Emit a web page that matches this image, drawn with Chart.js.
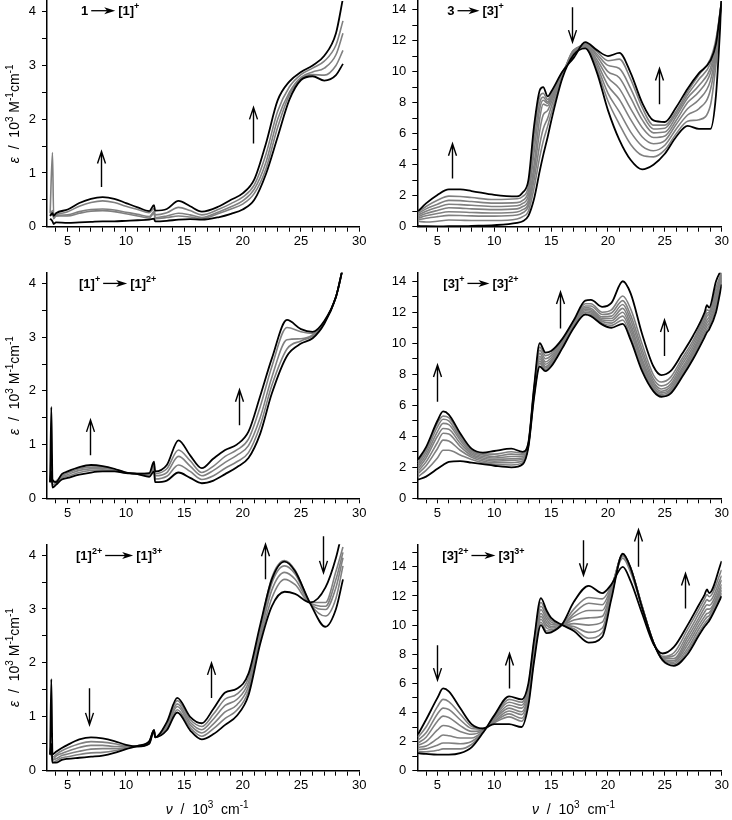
<!DOCTYPE html>
<html>
<head>
<meta charset="utf-8">
<script src="https://cdn.jsdelivr.net/npm/chart.js@4.4.0/dist/chart.umd.min.js"></script>
<style>
  body { margin: 0; background: #fff; }
  #wrap { position: relative; width: 732px; height: 820px; overflow: hidden; }
  canvas { position: absolute; }
</style>
</head>
<body>
<div id="wrap">
  <canvas id="c1" width="370" height="250" style="left:0;top:0"></canvas>
  <canvas id="c2" width="366" height="250" style="left:366px;top:0"></canvas>
  <canvas id="c3" width="370" height="270" style="left:0;top:250px"></canvas>
  <canvas id="c4" width="366" height="270" style="left:366px;top:250px"></canvas>
  <canvas id="c5" width="370" height="300" style="left:0;top:520px"></canvas>
  <canvas id="c6" width="366" height="300" style="left:366px;top:520px"></canvas>
</div>
<script>
// ---- tick values / labels ----
const xTickVals = [4, 5, 6, 7, 8, 9, 10, 11, 12, 13, 14, 15, 16, 17, 18, 19, 20, 21, 22, 23, 24, 25, 26, 27, 28, 29, 30];
const xLabelled = [5, 10, 15, 20, 25, 30];
const yTicksSmall = [0, 0.5, 1, 1.5, 2, 2.5, 3, 3.5, 4];
const yLabelledSmall = [0, 1, 2, 3, 4];
const yTicksBig = [0, 1, 2, 3, 4, 5, 6, 7, 8, 9, 10, 11, 12, 13, 14];
const yTicksBig15 = [0, 1, 2, 3, 4, 5, 6, 7, 8, 9, 10, 11, 12, 13, 14, 15];
const yLabelledBig = [0, 2, 4, 6, 8, 10, 12, 14];

// ---- panel 1 : 1 -> [1]+ ----
const p1_x  = [3.5, 3.7, 3.8, 4, 5, 6, 7, 8, 9, 10, 11, 12, 12.4, 12.5, 13.5, 14.5, 15.5, 16.5, 18, 19, 20, 21, 22, 23, 24, 25, 26, 27, 28, 28.6];
const p1_s0 = [0.15, 0.1, 0.05, 0.08, 0.07, 0.08, 0.09, 0.1, 0.1, 0.11, 0.12, 0.13, 0.15, 0.1, 0.11, 0.13, 0.14, 0.13, 0.18, 0.24, 0.32, 0.5, 0.98, 1.67, 2.36, 2.73, 2.8, 2.72, 2.82, 3.03];
const p1_s1 = [0.25, 1.38, 0.2, 0.2, 0.2, 0.25, 0.29, 0.3, 0.28, 0.24, 0.2, 0.16, 0.25, 0.15, 0.17, 0.2, 0.18, 0.15, 0.25, 0.33, 0.42, 0.62, 1.08, 1.85, 2.45, 2.75, 2.83, 2.82, 3.0, 3.28];
const p1_s2 = [0.2, 0.3, 0.15, 0.2, 0.22, 0.28, 0.32, 0.33, 0.31, 0.27, 0.23, 0.19, 0.28, 0.17, 0.2, 0.25, 0.22, 0.17, 0.28, 0.37, 0.48, 0.7, 1.2, 2.0, 2.5, 2.78, 2.88, 2.95, 3.2, 3.6];
const p1_s3 = [0.2, 0.25, 0.2, 0.22, 0.28, 0.38, 0.45, 0.48, 0.45, 0.38, 0.32, 0.26, 0.34, 0.22, 0.26, 0.36, 0.3, 0.22, 0.33, 0.43, 0.55, 0.78, 1.35, 2.15, 2.6, 2.83, 2.95, 3.08, 3.38, 3.83];
const p1_s4 = [0.2, 0.25, 0.2, 0.25, 0.32, 0.44, 0.52, 0.55, 0.52, 0.44, 0.36, 0.29, 0.4, 0.3, 0.33, 0.48, 0.38, 0.28, 0.38, 0.5, 0.62, 0.88, 1.55, 2.35, 2.7, 2.88, 3.0, 3.18, 3.6, 4.25];

// ---- panel 2 : 3 -> [3]+ ----
const p2_x  = [3.3, 4, 5, 6, 7, 8, 10, 12, 12.5, 13, 13.5, 14, 14.3, 14.7, 15, 16, 17, 18, 19, 20, 21, 22, 23, 24, 25, 26, 27, 28, 29, 29.5, 30];
const p2_s0 = [0.05, 0.03, 0.02, 0.03, 0.03, 0.05, 0.1, 0.25, 0.35, 0.7, 1.8, 3.6, 4.6, 5.8, 6.8, 9.6, 11.1, 11.5, 10.0, 7.5, 5.6, 4.3, 3.7, 4.0, 4.7, 5.8, 6.5, 6.3, 6.3, 8.5, 14.6];
const p2_s1 = [0.35, 0.3, 0.35, 0.43, 0.42, 0.4, 0.4, 0.5, 0.65, 1.0, 2.5, 4.5, 5.5, 6.5, 7.3, 9.7, 11.4, 11.55, 10.2, 8.1, 6.6, 5.3, 4.6, 4.5, 4.95, 6.0, 6.8, 6.9, 7.8, 10.5, 14.6];
const p2_s2 = [0.45, 0.55, 0.65, 0.73, 0.72, 0.7, 0.68, 0.75, 0.9, 1.3, 3.0, 5.3, 6.3, 7.0, 7.7, 9.75, 11.4, 11.6, 10.4, 8.6, 7.4, 6.1, 5.2, 4.9, 5.25, 6.3, 7.2, 7.6, 8.8, 11.0, 14.6];
const p2_s3 = [0.55, 0.7, 0.85, 0.96, 0.95, 0.92, 0.88, 0.95, 1.1, 1.5, 3.5, 6.2, 7.2, 7.5, 8.0, 9.8, 11.35, 11.65, 10.6, 9.1, 8.2, 6.9, 5.8, 5.35, 5.55, 6.6, 7.6, 8.2, 9.4, 11.3, 14.6];
const p2_s4 = [0.65, 0.85, 1.05, 1.22, 1.2, 1.15, 1.1, 1.15, 1.3, 1.7, 4.0, 7.0, 7.9, 7.8, 8.2, 9.85, 11.3, 11.7, 10.8, 9.6, 8.9, 7.6, 6.4, 5.75, 5.85, 6.85, 8.0, 8.7, 9.9, 11.5, 14.6];
const p2_s5 = [0.75, 1.0, 1.25, 1.45, 1.42, 1.38, 1.3, 1.35, 1.5, 2.0, 4.8, 7.6, 8.15, 7.95, 8.3, 9.9, 11.25, 11.75, 11.0, 10.0, 9.6, 8.3, 6.9, 6.05, 6.1, 7.1, 8.3, 9.1, 10.2, 11.7, 14.6];
const p2_s6 = [0.85, 1.15, 1.45, 1.7, 1.68, 1.62, 1.52, 1.55, 1.7, 2.3, 5.5, 8.0, 8.35, 8.05, 8.4, 9.95, 11.15, 11.8, 11.15, 10.4, 10.2, 8.9, 7.3, 6.3, 6.35, 7.3, 8.5, 9.5, 10.5, 11.9, 14.6];
const p2_s7 = [0.95, 1.3, 1.7, 1.97, 1.95, 1.88, 1.75, 1.8, 1.95, 2.6, 6.0, 8.4, 8.6, 8.2, 8.55, 10.0, 11.05, 11.85, 11.3, 10.7, 10.8, 9.5, 7.7, 6.55, 6.55, 7.45, 8.7, 9.8, 10.8, 12.1, 14.6];
const p2_s8 = [1.0, 1.5, 2.05, 2.4, 2.4, 2.3, 2.05, 1.95, 2.2, 3.0, 6.5, 8.8, 9.0, 8.4, 8.7, 10.0, 10.9, 11.9, 11.4, 11.0, 11.2, 9.9, 8.0, 6.85, 6.75, 7.7, 8.9, 9.9, 10.7, 11.8, 14.6];

// ---- panel 3 : [1]+ -> [1]2+ ----
const p3_x  = [3.5, 3.6, 3.7, 4, 4.5, 5, 6, 7, 8, 9, 10, 11, 12, 12.4, 12.5, 13.5, 14.5, 15.5, 16.5, 17.5, 18.5, 19.5, 20.5, 21.5, 22.5, 23.8, 25, 26, 27, 28, 28.6];
const p3_s0 = [0.3, 0.5, 0.2, 0.25, 0.35, 0.38, 0.44, 0.48, 0.5, 0.5, 0.47, 0.45, 0.4, 0.5, 0.3, 0.33, 0.48, 0.38, 0.28, 0.33, 0.45, 0.58, 0.75, 1.2, 1.95, 2.65, 2.88, 2.98, 3.25, 3.75, 4.3];
const p3_s1 = [0.3, 0.6, 0.25, 0.28, 0.38, 0.41, 0.48, 0.52, 0.53, 0.51, 0.47, 0.45, 0.42, 0.55, 0.36, 0.41, 0.62, 0.5, 0.35, 0.42, 0.56, 0.68, 0.85, 1.35, 2.1, 2.78, 2.93, 3.02, 3.27, 3.75, 4.3];
const p3_s2 = [0.3, 0.9, 0.3, 0.3, 0.4, 0.44, 0.52, 0.55, 0.56, 0.53, 0.48, 0.45, 0.44, 0.6, 0.42, 0.48, 0.78, 0.6, 0.42, 0.52, 0.67, 0.8, 0.98, 1.5, 2.25, 2.95, 2.97, 3.04, 3.28, 3.75, 4.3];
const p3_s3 = [0.3, 0.4, 0.3, 0.32, 0.42, 0.47, 0.55, 0.58, 0.58, 0.54, 0.48, 0.46, 0.46, 0.64, 0.46, 0.55, 0.9, 0.7, 0.48, 0.6, 0.78, 0.9, 1.1, 1.7, 2.45, 3.18, 3.1, 3.07, 3.29, 3.75, 4.3];
const p3_s4 = [0.3, 1.7, 0.35, 0.3, 0.45, 0.5, 0.58, 0.62, 0.6, 0.55, 0.48, 0.46, 0.47, 0.68, 0.5, 0.62, 1.08, 0.8, 0.56, 0.74, 0.9, 1.0, 1.24, 1.9, 2.6, 3.32, 3.15, 3.1, 3.3, 3.75, 4.3];

// ---- panel 4 : [3]+ -> [3]2+ ----
const p4_x  = [3.3, 4, 5, 5.5, 6, 7, 8, 9, 10, 11.5, 12.5, 13, 13.5, 14, 14.5, 15, 16, 17, 18, 18.5, 19.5, 20.3, 21.3, 22, 23, 24, 24.7, 25.5, 26.5, 27.5, 28.5, 28.7, 28.9, 29.5, 30];
const p4_s0 = [1.2, 1.4, 1.9, 2.15, 2.35, 2.4, 2.3, 2.2, 2.1, 2.0, 2.2, 3.3, 6.5, 8.5, 8.2, 8.5, 9.7, 11.0, 11.85, 11.75, 11.2, 11.0, 11.25, 10.2, 8.2, 6.9, 6.55, 6.75, 7.8, 9.0, 10.4, 10.7, 10.9, 12.0, 13.8];
const p4_s1 = [1.4, 1.8, 2.6, 3.1, 3.1, 2.8, 2.5, 2.3, 2.2, 2.15, 2.3, 3.4, 6.6, 8.7, 8.3, 8.6, 9.8, 11.1, 11.9, 11.85, 11.3, 11.15, 11.5, 10.4, 8.4, 7.0, 6.6, 6.85, 7.95, 9.15, 10.6, 10.9, 11.1, 12.3, 14.0];
const p4_s2 = [1.6, 2.1, 3.2, 3.75, 3.7, 3.1, 2.65, 2.4, 2.3, 2.3, 2.4, 3.4, 6.7, 8.85, 8.4, 8.7, 9.85, 11.15, 12.0, 11.95, 11.4, 11.3, 11.75, 10.7, 8.6, 7.1, 6.7, 6.95, 8.1, 9.3, 10.8, 11.1, 11.3, 12.5, 14.1];
const p4_s3 = [1.75, 2.35, 3.6, 4.2, 4.15, 3.35, 2.75, 2.5, 2.4, 2.45, 2.5, 3.4, 6.8, 9.0, 8.5, 8.8, 9.9, 11.2, 12.1, 12.05, 11.5, 11.45, 12.0, 10.95, 8.8, 7.2, 6.8, 7.05, 8.25, 9.45, 11.0, 11.3, 11.5, 12.7, 14.2];
const p4_s4 = [1.9, 2.6, 4.0, 4.5, 4.45, 3.55, 2.85, 2.6, 2.5, 2.55, 2.6, 3.45, 6.9, 9.15, 8.65, 8.9, 9.95, 11.25, 12.2, 12.15, 11.6, 11.6, 12.25, 11.2, 9.0, 7.35, 6.9, 7.2, 8.4, 9.6, 11.2, 11.5, 11.7, 12.9, 14.3];
const p4_s5 = [2.05, 2.8, 4.3, 4.83, 4.75, 3.75, 2.95, 2.7, 2.6, 2.7, 2.7, 3.5, 6.95, 9.35, 8.8, 9.05, 10.05, 11.3, 12.3, 12.25, 11.7, 11.75, 12.5, 11.5, 9.3, 7.5, 7.05, 7.35, 8.6, 9.8, 11.4, 11.75, 11.9, 13.1, 14.4];
const p4_s6 = [2.2, 3.0, 4.6, 5.1, 5.0, 3.9, 3.05, 2.8, 2.7, 2.85, 2.8, 3.5, 7.0, 9.55, 9.0, 9.2, 10.15, 11.35, 12.4, 12.4, 11.85, 11.95, 12.75, 11.8, 9.6, 7.7, 7.25, 7.55, 8.8, 10.0, 11.6, 11.95, 12.0, 13.3, 14.5];
const p4_s7 = [2.35, 3.15, 4.85, 5.3, 5.2, 4.05, 3.12, 2.88, 2.85, 3.0, 2.9, 3.55, 7.1, 9.75, 9.2, 9.35, 10.2, 11.4, 12.55, 12.55, 12.0, 12.15, 13.05, 12.2, 9.95, 7.95, 7.5, 7.8, 9.0, 10.2, 11.8, 12.15, 12.1, 13.6, 14.6];
const p4_s8 = [2.5, 3.3, 5.0, 5.6, 5.4, 4.2, 3.2, 2.95, 3.05, 3.2, 3.0, 3.6, 7.2, 10.0, 9.4, 9.5, 10.3, 11.5, 12.75, 12.8, 12.35, 12.6, 14.0, 13.2, 10.6, 8.5, 7.95, 8.2, 9.3, 10.5, 12.0, 12.45, 12.3, 14.0, 14.8];

// ---- panel 5 : [1]2+ -> [1]3+ ----
const p5_x  = [3.5, 3.6, 3.7, 4, 4.5, 5, 6, 7, 8, 9, 10, 11, 12, 12.4, 12.5, 13.5, 14.4, 15.5, 16.5, 17.5, 18.5, 19.5, 20.5, 21.5, 22.5, 23.6, 24.5, 25.8, 27.1, 28, 28.6];
const p5_s0 = [0.3, 1.7, 0.3, 0.35, 0.42, 0.48, 0.58, 0.62, 0.6, 0.55, 0.48, 0.45, 0.5, 0.75, 0.62, 0.75, 1.08, 0.75, 0.58, 0.68, 0.85, 1.02, 1.4, 2.35, 3.05, 3.32, 3.28, 3.12, 3.4, 3.95, 4.5];
const p5_s1 = [0.3, 0.4, 0.25, 0.3, 0.37, 0.42, 0.5, 0.54, 0.53, 0.5, 0.46, 0.45, 0.51, 0.75, 0.62, 0.78, 1.13, 0.8, 0.64, 0.78, 0.97, 1.12, 1.48, 2.42, 3.2, 3.55, 3.45, 3.12, 3.12, 3.7, 4.15];
const p5_s2 = [0.3, 0.35, 0.2, 0.27, 0.32, 0.36, 0.43, 0.47, 0.47, 0.45, 0.45, 0.45, 0.52, 0.75, 0.62, 0.81, 1.19, 0.85, 0.7, 0.87, 1.09, 1.22, 1.56, 2.5, 3.35, 3.68, 3.55, 3.11, 3.05, 3.55, 4.05];
const p5_s3 = [0.3, 0.3, 0.2, 0.22, 0.28, 0.31, 0.36, 0.4, 0.41, 0.41, 0.43, 0.45, 0.53, 0.75, 0.62, 0.84, 1.24, 0.9, 0.76, 0.96, 1.21, 1.32, 1.64, 2.58, 3.48, 3.8, 3.65, 3.1, 2.99, 3.4, 3.95];
const p5_s4 = [0.3, 0.3, 0.15, 0.18, 0.24, 0.26, 0.3, 0.33, 0.34, 0.37, 0.42, 0.46, 0.54, 0.75, 0.62, 0.87, 1.3, 0.95, 0.82, 1.05, 1.33, 1.42, 1.72, 2.65, 3.58, 3.9, 3.72, 3.1, 2.87, 3.2, 3.8];
const p5_s5 = [0.3, 0.5, 0.15, 0.15, 0.2, 0.22, 0.24, 0.26, 0.28, 0.33, 0.4, 0.46, 0.55, 0.75, 0.62, 0.9, 1.35, 1.0, 0.88, 1.15, 1.45, 1.52, 1.8, 2.7, 3.55, 3.88, 3.7, 3.1, 2.67, 3.0, 3.55];

// ---- panel 6 : [3]2+ -> [3]3+ ----
const p6_x  = [3.3, 4, 5, 5.5, 6, 7, 8, 9, 10, 11.3, 12.4, 13, 13.5, 14.1, 14.6, 15, 16, 17, 18.3, 19.5, 20.3, 21.3, 22, 23, 24, 24.8, 25.8, 27, 28, 28.5, 28.7, 28.9, 30];
const p6_s0 = [2.5, 3.5, 5.0, 5.65, 5.45, 4.3, 3.2, 2.9, 3.2, 3.2, 3.0, 4.5, 7.5, 10.0, 9.45, 9.5, 10.1, 11.6, 12.7, 12.2, 12.8, 14.0, 13.0, 10.8, 8.7, 8.05, 8.5, 10.0, 11.4, 12.1, 12.45, 12.2, 14.4];
const p6_s1 = [2.3, 3.0, 4.4, 4.9, 4.75, 3.9, 3.05, 2.9, 3.3, 3.7, 3.4, 4.7, 7.7, 10.2, 9.6, 9.6, 10.05, 11.1, 11.9, 11.8, 12.7, 14.6, 13.6, 11.2, 8.8, 7.85, 8.1, 9.7, 11.1, 11.8, 12.1, 11.95, 13.8];
const p6_s2 = [2.1, 2.6, 3.9, 4.3, 4.2, 3.5, 2.9, 2.85, 3.35, 3.9, 3.6, 4.9, 7.9, 10.4, 9.8, 9.7, 10.0, 10.8, 11.5, 11.4, 12.6, 14.75, 13.8, 11.3, 8.8, 7.8, 7.9, 9.4, 10.8, 11.5, 11.75, 11.65, 13.4];
const p6_s3 = [1.9, 2.3, 3.4, 3.75, 3.65, 3.1, 2.7, 2.8, 3.4, 4.1, 3.85, 5.1, 8.1, 10.6, 10.0, 9.8, 10.0, 10.6, 11.0, 11.0, 12.5, 14.8, 13.85, 11.3, 8.8, 7.75, 7.7, 9.15, 10.5, 11.2, 11.4, 11.35, 13.1];
const p6_s4 = [1.75, 2.0, 2.8, 3.1, 3.05, 2.7, 2.5, 2.75, 3.5, 4.3, 4.05, 5.3, 8.3, 10.8, 10.2, 9.9, 10.0, 10.35, 10.5, 10.6, 12.4, 14.85, 13.9, 11.3, 8.8, 7.7, 7.55, 8.9, 10.25, 10.9, 11.1, 11.1, 12.8];
const p6_s5 = [1.6, 1.7, 2.2, 2.45, 2.4, 2.25, 2.25, 2.7, 3.55, 4.5, 4.3, 5.5, 8.5, 11.05, 10.4, 10.05, 10.0, 10.1, 10.0, 10.2, 12.2, 14.85, 13.9, 11.25, 8.8, 7.65, 7.45, 8.65, 10.0, 10.6, 10.8, 10.85, 12.6];
const p6_s6 = [1.45, 1.5, 1.75, 1.9, 1.9, 1.85, 2.0, 2.65, 3.65, 4.7, 4.5, 5.65, 8.7, 11.3, 10.6, 10.2, 10.0, 9.9, 9.5, 9.8, 12.1, 14.85, 13.9, 11.25, 8.8, 7.6, 7.35, 8.4, 9.75, 10.35, 10.55, 10.65, 12.4];
const p6_s7 = [1.3, 1.3, 1.4, 1.5, 1.5, 1.5, 1.8, 2.6, 3.7, 4.9, 4.7, 5.8, 8.85, 11.55, 10.8, 10.35, 10.0, 9.75, 9.1, 9.5, 11.95, 14.9, 13.9, 11.2, 8.8, 7.55, 7.25, 8.2, 9.5, 10.1, 10.3, 10.45, 12.2];
const p6_s8 = [1.2, 1.15, 1.1, 1.1, 1.1, 1.2, 1.6, 2.6, 3.8, 5.1, 4.9, 6.0, 9.0, 11.85, 11.0, 10.5, 10.0, 9.6, 8.8, 9.2, 11.8, 14.9, 13.9, 11.2, 8.8, 7.6, 7.2, 8.0, 9.3, 9.9, 10.1, 10.3, 12.0];

// ---- drawing ----
const FONT = "'Liberation Sans', Arial, sans-serif";
Chart.defaults.font.family = FONT;
Chart.defaults.font.size = 13;
Chart.defaults.color = '#000';

const COL = [{ yw: 47, padR: 10.7 }, { yw: 51.3, padR: 10.3 }];
const ROW = [{ padT: 1, xh: 23.3 }, { padT: 22.7, xh: 21.7 }, { padT: 24.3, xh: 49.3 }];

function drawRich(ctx, segs, x, y, size, weight) {
  for (const s of segs) {
    if (s.arrow) {
      const x0 = x + 3, x1 = x + s.arrow - 3, ay = y - size * 0.33;
      ctx.lineWidth = 1.3;
      ctx.beginPath(); ctx.moveTo(x0, ay); ctx.lineTo(x1 - 8, ay); ctx.stroke();
      ctx.beginPath(); ctx.moveTo(x1, ay); ctx.lineTo(x1 - 11, ay - 3.5); ctx.lineTo(x1 - 8, ay); ctx.lineTo(x1 - 11, ay + 3.5); ctx.closePath(); ctx.fill();
      x += s.arrow;
      continue;
    }
    const fs = s.sup ? Math.round(size * 0.68) : size;
    ctx.font = (s.it ? 'italic ' : '') + weight + ' ' + fs + 'px ' + FONT;
    ctx.fillText(s.t, x, s.sup ? y - size * 0.45 : y);
    x += ctx.measureText(s.t).width;
  }
  return x;
}

const decor = {
  id: 'decor',
  afterDatasetsDraw(chart, args, o) {
    const ctx = chart.ctx, sx = chart.scales.x, sy = chart.scales.y, ca = chart.chartArea;
    ctx.save();
    ctx.strokeStyle = '#000';
    ctx.fillStyle = '#000';
    ctx.textBaseline = 'alphabetic';
    // arrows inside the plot
    ctx.lineWidth = 1.4;
    for (const [xv, from, to] of o.arrows) {
      const px = Math.round(sx.getPixelForValue(xv)) + 0.5;
      const a = sy.getPixelForValue(from), b = sy.getPixelForValue(to);
      const d = b < a ? 1 : -1;
      ctx.beginPath();
      ctx.moveTo(px, a); ctx.lineTo(px, b);
      ctx.moveTo(px - 4, b + d * 12); ctx.lineTo(px, b); ctx.lineTo(px + 4, b + d * 12);
      ctx.stroke();
    }
    // panel label
    drawRich(ctx, o.label, ca.left + o.labelDx, ca.top + o.labelDy, 13, 'bold');
    // axis titles
    if (o.yTitle) {
      const segs = [{ t: 'ε', it: 1 }, { t: '  /  10' }, { t: '3', sup: 1 }, { t: ' M' }, { t: '-1', sup: 1 }, { t: 'cm' }, { t: '-1', sup: 1 }];
      ctx.font = '14px ' + FONT;
      let w = 0;
      for (const s of segs) { ctx.font = (s.sup ? 10 : 14) + 'px ' + FONT; w += ctx.measureText(s.t).width; }
      ctx.translate(14, (ca.top + ca.bottom) / 2);
      ctx.rotate(-Math.PI / 2);
      drawRich(ctx, segs, -w / 2, 5, 14, 'normal');
      ctx.setTransform(1, 0, 0, 1, 0, 0);
    }
    if (o.xTitle) {
      const segs = [{ t: 'ν', it: 1 }, { t: '  /  10' }, { t: '3', sup: 1 }, { t: '  cm' }, { t: '-1', sup: 1 }];
      let w = 0;
      for (const s of segs) { ctx.font = (s.sup ? 10 : 14) + 'px ' + FONT; w += ctx.measureText(s.t).width; }
      drawRich(ctx, segs, (ca.left + ca.right) / 2 - w / 2 + 4, chart.height - 6, 14, 'normal');
    }
    ctx.restore();
  }
};

function makePanel(id, col, row, xs, series, yMax, yTicks, yLabelled, extra) {
  const c = COL[col], r = ROW[row];
  const last = series.length - 1;
  const datasets = series.map((ys, i) => {
    const black = i === 0 || i === last;
    return {
      data: ys.map((v, k) => ({ x: xs[k], y: v })),
      borderColor: black ? '#000' : '#808080',
      borderWidth: black ? 1.8 : 1.6,
      pointRadius: 0,
      cubicInterpolationMode: 'monotone',
      order: black ? 0 : 1
    };
  });
  new Chart(document.getElementById(id), {
    type: 'line',
    data: { datasets },
    plugins: [decor],
    options: {
      responsive: false,
      animation: false,
      events: [],
      layout: { padding: { top: r.padT, right: c.padR, left: 0, bottom: 0 } },
      plugins: {
        legend: { display: false },
        tooltip: { enabled: false },
        decor: extra
      },
      scales: {
        x: {
          type: 'linear', min: 3.23, max: 30,
          afterBuildTicks: s => { s.ticks = xTickVals.map(v => ({ value: v })); },
          afterFit: s => { s.height = r.xh; s.paddingLeft = 0; s.paddingRight = 0; },
          ticks: { autoSkip: false, maxRotation: 0, padding: 2, callback: v => xLabelled.includes(v) ? String(v) : '' },
          grid: { drawOnChartArea: false, tickLength: 5, tickColor: '#000', tickWidth: 1 },
          border: { color: '#000', width: 1.5 }
        },
        y: {
          type: 'linear', min: 0, max: yMax,
          afterBuildTicks: s => { s.ticks = yTicks.map(v => ({ value: v })); },
          afterFit: s => { s.width = c.yw; s.paddingTop = 0; s.paddingBottom = 0; },
          ticks: { autoSkip: false, padding: 6, callback: v => yLabelled.includes(v) ? String(v) : '' },
          grid: { drawOnChartArea: false, tickLength: 5, tickColor: '#000', tickWidth: 1 },
          border: { color: '#000', width: 1.5 }
        }
      }
    }
  });
}

makePanel('c1', 0, 0, p1_x, [p1_s0, p1_s1, p1_s2, p1_s3, p1_s4], 4.2, yTicksSmall, yLabelledSmall, {
  arrows: [[7.9, 0.74, 1.4], [20.9, 1.55, 2.22]],
  label: [{ t: '1' }, { arrow: 30 }, { t: '[1]' }, { t: '+', sup: 1 }],
  labelDx: 34, labelDy: 14, yTitle: true, xTitle: false
});
makePanel('c2', 1, 0, p2_x, [p2_s0, p2_s1, p2_s2, p2_s3, p2_s4, p2_s5, p2_s6, p2_s7, p2_s8], 14.55, yTicksBig, yLabelledBig, {
  arrows: [[6.3, 3.1, 5.35], [16.8, 14.15, 11.9], [24.5, 7.9, 10.2]],
  label: [{ t: '3' }, { arrow: 28 }, { t: '[3]' }, { t: '+', sup: 1 }],
  labelDx: 30, labelDy: 14, yTitle: false, xTitle: false
});
makePanel('c3', 0, 1, p3_x, [p3_s0, p3_s1, p3_s2, p3_s3, p3_s4], 4.2, yTicksSmall, yLabelledSmall, {
  arrows: [[6.9, 0.8, 1.46], [19.7, 1.36, 2.02]],
  label: [{ t: '[1]' }, { t: '+', sup: 1 }, { arrow: 30 }, { t: '[1]' }, { t: '2+', sup: 1 }],
  labelDx: 32, labelDy: 15, yTitle: true, xTitle: false
});
makePanel('c4', 1, 1, p4_x, [p4_s0, p4_s1, p4_s2, p4_s3, p4_s4, p4_s5, p4_s6, p4_s7, p4_s8], 14.55, yTicksBig, yLabelledBig, {
  arrows: [[4.95, 6.23, 8.6], [15.8, 10.95, 13.3], [24.9, 9.17, 11.5]],
  label: [{ t: '[3]' }, { t: '+', sup: 1 }, { arrow: 28 }, { t: '[3]' }, { t: '2+', sup: 1 }],
  labelDx: 26, labelDy: 15, yTitle: false, xTitle: false
});
makePanel('c5', 0, 2, p5_x, [p5_s0, p5_s1, p5_s2, p5_s3, p5_s4, p5_s5], 4.2, yTicksSmall, yLabelledSmall, {
  arrows: [[6.8, 1.53, 0.85], [17.3, 1.35, 2.0], [21.9, 3.55, 4.2], [26.85, 4.35, 3.67]],
  label: [{ t: '[1]' }, { t: '2+', sup: 1 }, { arrow: 34 }, { t: '[1]' }, { t: '3+', sup: 1 }],
  labelDx: 29, labelDy: 15.5, yTitle: true, xTitle: true
});
makePanel('c6', 1, 2, p6_x, [p6_s0, p6_s1, p6_s2, p6_s3, p6_s4, p6_s5, p6_s6, p6_s7, p6_s8], 15.55, yTicksBig15, yLabelledBig, {
  arrows: [[5.0, 8.62, 6.22], [11.3, 5.65, 8.05], [17.8, 15.83, 13.43], [22.6, 14.0, 16.56], [26.8, 11.14, 13.54]],
  label: [{ t: '[3]' }, { t: '2+', sup: 1 }, { arrow: 30 }, { t: '[3]' }, { t: '3+', sup: 1 }],
  labelDx: 25, labelDy: 15.5, yTitle: false, xTitle: true
});
</script>
</body>
</html>
